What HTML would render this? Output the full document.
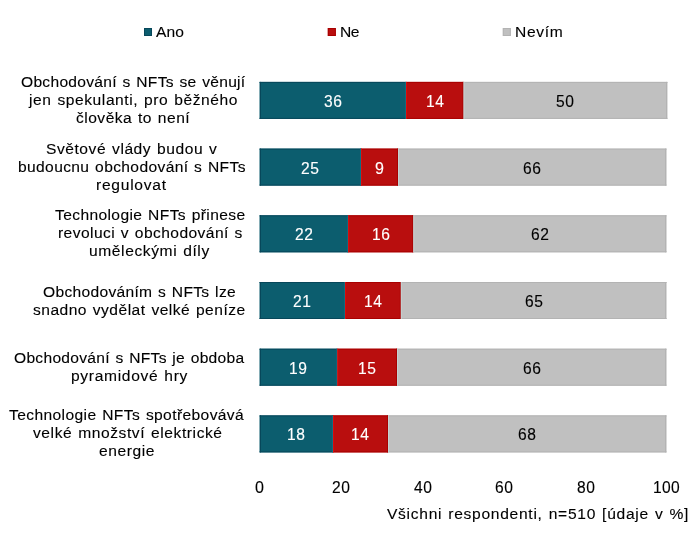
<!DOCTYPE html><html><head><meta charset="utf-8"><style>
html,body{margin:0;padding:0;background:#fff;}
body{width:700px;height:537px;position:relative;overflow:hidden;font-family:"Liberation Sans",sans-serif;color:#000;}
.a{position:absolute;}
.t{position:absolute;white-space:nowrap;font-size:15px;line-height:20px;transform-origin:0 0;will-change:transform;-webkit-text-stroke:0.12px currentColor;}
</style></head><body>

<svg class="a" style="left:0;top:0" width="700" height="537" viewBox="0 0 700 537"><rect x="144" y="28" width="8" height="8" fill="#0c5d6e"/><rect x="144.5" y="28.5" width="7" height="7" fill="none" stroke="#07475a" stroke-width="1"/><rect x="327.8" y="28" width="8" height="8" fill="#b90e0e"/><rect x="328.3" y="28.5" width="7" height="7" fill="none" stroke="#a80000" stroke-width="1"/><rect x="502.8" y="28" width="8" height="8" fill="#c0c0c0"/><rect x="503.3" y="28.5" width="7" height="7" fill="none" stroke="#b3b3b3" stroke-width="1"/><rect x="259.50" y="81.90" width="146.50" height="37" fill="#0c5d6e"/><rect x="259.50" y="81.90" width="146.50" height="1" fill="#07475a"/><rect x="259.50" y="117.90" width="146.50" height="1" fill="#07475a"/><rect x="406.00" y="81.90" width="57.50" height="37" fill="#b90e0e"/><rect x="406.00" y="81.90" width="57.50" height="1" fill="#a80000"/><rect x="406.00" y="117.90" width="57.50" height="1" fill="#a80000"/><rect x="463.50" y="81.90" width="204.00" height="37" fill="#c0c0c0"/><rect x="463.50" y="81.90" width="204.00" height="1" fill="#b3b3b3"/><rect x="463.50" y="117.90" width="204.00" height="1" fill="#b3b3b3"/><rect x="259.50" y="148.60" width="101.50" height="37" fill="#0c5d6e"/><rect x="259.50" y="148.60" width="101.50" height="1" fill="#07475a"/><rect x="259.50" y="184.60" width="101.50" height="1" fill="#07475a"/><rect x="361.00" y="148.60" width="37.00" height="37" fill="#b90e0e"/><rect x="361.00" y="148.60" width="37.00" height="1" fill="#a80000"/><rect x="361.00" y="184.60" width="37.00" height="1" fill="#a80000"/><rect x="398.00" y="148.60" width="268.60" height="37" fill="#c0c0c0"/><rect x="398.00" y="148.60" width="268.60" height="1" fill="#b3b3b3"/><rect x="398.00" y="184.60" width="268.60" height="1" fill="#b3b3b3"/><rect x="259.50" y="215.30" width="88.60" height="37" fill="#0c5d6e"/><rect x="259.50" y="215.30" width="88.60" height="1" fill="#07475a"/><rect x="259.50" y="251.30" width="88.60" height="1" fill="#07475a"/><rect x="348.10" y="215.30" width="65.20" height="37" fill="#b90e0e"/><rect x="348.10" y="215.30" width="65.20" height="1" fill="#a80000"/><rect x="348.10" y="251.30" width="65.20" height="1" fill="#a80000"/><rect x="413.30" y="215.30" width="253.30" height="37" fill="#c0c0c0"/><rect x="413.30" y="215.30" width="253.30" height="1" fill="#b3b3b3"/><rect x="413.30" y="251.30" width="253.30" height="1" fill="#b3b3b3"/><rect x="259.50" y="282.00" width="85.50" height="37" fill="#0c5d6e"/><rect x="259.50" y="282.00" width="85.50" height="1" fill="#07475a"/><rect x="259.50" y="318.00" width="85.50" height="1" fill="#07475a"/><rect x="345.00" y="282.00" width="55.80" height="37" fill="#b90e0e"/><rect x="345.00" y="282.00" width="55.80" height="1" fill="#a80000"/><rect x="345.00" y="318.00" width="55.80" height="1" fill="#a80000"/><rect x="400.80" y="282.00" width="265.80" height="37" fill="#c0c0c0"/><rect x="400.80" y="282.00" width="265.80" height="1" fill="#b3b3b3"/><rect x="400.80" y="318.00" width="265.80" height="1" fill="#b3b3b3"/><rect x="259.50" y="348.70" width="77.80" height="37" fill="#0c5d6e"/><rect x="259.50" y="348.70" width="77.80" height="1" fill="#07475a"/><rect x="259.50" y="384.70" width="77.80" height="1" fill="#07475a"/><rect x="337.30" y="348.70" width="59.70" height="37" fill="#b90e0e"/><rect x="337.30" y="348.70" width="59.70" height="1" fill="#a80000"/><rect x="337.30" y="384.70" width="59.70" height="1" fill="#a80000"/><rect x="397.00" y="348.70" width="269.60" height="37" fill="#c0c0c0"/><rect x="397.00" y="348.70" width="269.60" height="1" fill="#b3b3b3"/><rect x="397.00" y="384.70" width="269.60" height="1" fill="#b3b3b3"/><rect x="259.50" y="415.40" width="73.50" height="37" fill="#0c5d6e"/><rect x="259.50" y="415.40" width="73.50" height="1" fill="#07475a"/><rect x="259.50" y="451.40" width="73.50" height="1" fill="#07475a"/><rect x="333.00" y="415.40" width="55.00" height="37" fill="#b90e0e"/><rect x="333.00" y="415.40" width="55.00" height="1" fill="#a80000"/><rect x="333.00" y="451.40" width="55.00" height="1" fill="#a80000"/><rect x="388.00" y="415.40" width="278.60" height="37" fill="#c0c0c0"/><rect x="388.00" y="415.40" width="278.60" height="1" fill="#b3b3b3"/><rect x="388.00" y="451.40" width="278.60" height="1" fill="#b3b3b3"/><rect x="260.00" y="81.90" width="1" height="37" fill="#07475a"/><rect x="405.00" y="81.90" width="1" height="37" fill="#0e6c80"/><rect x="406.00" y="81.90" width="1" height="37" fill="#dc0a0a"/><rect x="462.50" y="81.90" width="1" height="37" fill="#a80000"/><rect x="463.50" y="81.90" width="1" height="37" fill="#c4d2d2"/><rect x="666.00" y="81.90" width="1" height="37" fill="#b3b3b3"/><rect x="260.00" y="148.60" width="1" height="37" fill="#07475a"/><rect x="360.00" y="148.60" width="1" height="37" fill="#0e6c80"/><rect x="361.00" y="148.60" width="1" height="37" fill="#dc0a0a"/><rect x="397.00" y="148.60" width="1" height="37" fill="#a80000"/><rect x="398.00" y="148.60" width="1" height="37" fill="#c4d2d2"/><rect x="665.00" y="148.60" width="1" height="37" fill="#b3b3b3"/><rect x="260.00" y="215.30" width="1" height="37" fill="#07475a"/><rect x="347.10" y="215.30" width="1" height="37" fill="#0e6c80"/><rect x="348.10" y="215.30" width="1" height="37" fill="#dc0a0a"/><rect x="412.30" y="215.30" width="1" height="37" fill="#a80000"/><rect x="413.30" y="215.30" width="1" height="37" fill="#c4d2d2"/><rect x="665.00" y="215.30" width="1" height="37" fill="#b3b3b3"/><rect x="260.00" y="282.00" width="1" height="37" fill="#07475a"/><rect x="344.00" y="282.00" width="1" height="37" fill="#0e6c80"/><rect x="345.00" y="282.00" width="1" height="37" fill="#dc0a0a"/><rect x="399.80" y="282.00" width="1" height="37" fill="#a80000"/><rect x="400.80" y="282.00" width="1" height="37" fill="#c4d2d2"/><rect x="665.00" y="282.00" width="1" height="37" fill="#b3b3b3"/><rect x="260.00" y="348.70" width="1" height="37" fill="#07475a"/><rect x="336.30" y="348.70" width="1" height="37" fill="#0e6c80"/><rect x="337.30" y="348.70" width="1" height="37" fill="#dc0a0a"/><rect x="396.00" y="348.70" width="1" height="37" fill="#a80000"/><rect x="397.00" y="348.70" width="1" height="37" fill="#c4d2d2"/><rect x="665.00" y="348.70" width="1" height="37" fill="#b3b3b3"/><rect x="260.00" y="415.40" width="1" height="37" fill="#07475a"/><rect x="332.00" y="415.40" width="1" height="37" fill="#0e6c80"/><rect x="333.00" y="415.40" width="1" height="37" fill="#dc0a0a"/><rect x="387.00" y="415.40" width="1" height="37" fill="#a80000"/><rect x="388.00" y="415.40" width="1" height="37" fill="#c4d2d2"/><rect x="665.00" y="415.40" width="1" height="37" fill="#b3b3b3"/></svg>
<div class="t" style="left:156.20px;top:21.50px;transform:scale(1.0400,1.02);letter-spacing:0.125px;word-spacing:0px">Ano</div>
<div class="t" style="left:339.76px;top:21.50px;transform:scale(1.0400,1.02);letter-spacing:-0.500px;word-spacing:0px">Ne</div>
<div class="t" style="left:514.56px;top:21.50px;transform:scale(1.0400,1.02);letter-spacing:0.663px;word-spacing:0px">Nevím</div>
<div class="t" style="left:20.86px;top:71.90px;transform:scale(1.0400,1.02);letter-spacing:0.271px;word-spacing:1.0px">Obchodování s NFTs se věnují</div>
<div class="t" style="left:28.80px;top:89.90px;transform:scale(1.0400,1.02);letter-spacing:0.538px;word-spacing:1.0px">jen spekulanti, pro běžného</div>
<div class="t" style="left:76.06px;top:107.90px;transform:scale(1.0400,1.02);letter-spacing:0.455px;word-spacing:1.0px">člověka to není</div>
<div class="t" style="left:323.69px;top:90.93px;transform:scale(1.0400,1.09);letter-spacing:0.433px;word-spacing:0px;color:#fff">36</div>
<div class="t" style="left:425.69px;top:90.93px;transform:scale(1.0400,1.09);letter-spacing:0.433px;word-spacing:0px;color:#fff">14</div>
<div class="t" style="left:556.44px;top:90.93px;transform:scale(1.0400,1.09);letter-spacing:0.433px;word-spacing:0px;color:#000">50</div>
<div class="t" style="left:45.96px;top:138.60px;transform:scale(1.0400,1.02);letter-spacing:0.518px;word-spacing:1.0px">Světové vlády budou v</div>
<div class="t" style="left:18.46px;top:156.60px;transform:scale(1.0400,1.02);letter-spacing:0.343px;word-spacing:1.0px">budoucnu obchodování s NFTs</div>
<div class="t" style="left:96.46px;top:174.60px;transform:scale(1.0400,1.02);letter-spacing:0.704px;word-spacing:0px">regulovat</div>
<div class="t" style="left:301.19px;top:157.63px;transform:scale(1.0400,1.09);letter-spacing:0.433px;word-spacing:0px;color:#fff">25</div>
<div class="t" style="left:374.69px;top:157.63px;transform:scale(1.0700,1.09);letter-spacing:0.000px;word-spacing:0px;color:#fff">9</div>
<div class="t" style="left:523.24px;top:157.63px;transform:scale(1.0400,1.09);letter-spacing:0.433px;word-spacing:0px;color:#000">66</div>
<div class="t" style="left:55.30px;top:205.30px;transform:scale(1.0400,1.02);letter-spacing:0.357px;word-spacing:1.0px">Technologie NFTs přinese</div>
<div class="t" style="left:58.06px;top:223.30px;transform:scale(1.0400,1.02);letter-spacing:0.398px;word-spacing:1.0px">revoluci v obchodování s</div>
<div class="t" style="left:89.36px;top:241.30px;transform:scale(1.0400,1.02);letter-spacing:0.565px;word-spacing:1.0px">uměleckými díly</div>
<div class="t" style="left:294.74px;top:224.33px;transform:scale(1.0400,1.09);letter-spacing:0.433px;word-spacing:0px;color:#fff">22</div>
<div class="t" style="left:371.64px;top:224.33px;transform:scale(1.0400,1.09);letter-spacing:0.433px;word-spacing:0px;color:#fff">16</div>
<div class="t" style="left:530.89px;top:224.33px;transform:scale(1.0400,1.09);letter-spacing:0.433px;word-spacing:0px;color:#000">62</div>
<div class="t" style="left:43.16px;top:281.50px;transform:scale(1.0400,1.02);letter-spacing:0.289px;word-spacing:1.0px">Obchodováním s NFTs lze</div>
<div class="t" style="left:32.96px;top:299.50px;transform:scale(1.0400,1.02);letter-spacing:0.450px;word-spacing:1.0px">snadno vydělat velké peníze</div>
<div class="t" style="left:293.19px;top:291.03px;transform:scale(1.0400,1.09);letter-spacing:0.433px;word-spacing:0px;color:#fff">21</div>
<div class="t" style="left:363.83px;top:291.03px;transform:scale(1.0400,1.09);letter-spacing:0.433px;word-spacing:0px;color:#fff">14</div>
<div class="t" style="left:524.64px;top:291.03px;transform:scale(1.0400,1.09);letter-spacing:0.433px;word-spacing:0px;color:#000">65</div>
<div class="t" style="left:14.16px;top:348.20px;transform:scale(1.0400,1.02);letter-spacing:0.266px;word-spacing:1.0px">Obchodování s NFTs je obdoba</div>
<div class="t" style="left:71.06px;top:366.20px;transform:scale(1.0400,1.02);letter-spacing:0.642px;word-spacing:1.0px">pyramidové hry</div>
<div class="t" style="left:289.33px;top:357.73px;transform:scale(1.0400,1.09);letter-spacing:0.433px;word-spacing:0px;color:#fff">19</div>
<div class="t" style="left:358.08px;top:357.73px;transform:scale(1.0400,1.09);letter-spacing:0.433px;word-spacing:0px;color:#fff">15</div>
<div class="t" style="left:522.74px;top:357.73px;transform:scale(1.0400,1.09);letter-spacing:0.433px;word-spacing:0px;color:#000">66</div>
<div class="t" style="left:8.90px;top:405.40px;transform:scale(1.0400,1.02);letter-spacing:0.366px;word-spacing:1.0px">Technologie NFTs spotřebovává</div>
<div class="t" style="left:33.10px;top:423.40px;transform:scale(1.0400,1.02);letter-spacing:0.544px;word-spacing:1.0px">velké množství elektrické</div>
<div class="t" style="left:98.66px;top:441.40px;transform:scale(1.0400,1.02);letter-spacing:0.551px;word-spacing:0px">energie</div>
<div class="t" style="left:287.19px;top:424.43px;transform:scale(1.0400,1.09);letter-spacing:0.433px;word-spacing:0px;color:#fff">18</div>
<div class="t" style="left:351.44px;top:424.43px;transform:scale(1.0400,1.09);letter-spacing:0.433px;word-spacing:0px;color:#fff">14</div>
<div class="t" style="left:518.24px;top:424.43px;transform:scale(1.0400,1.09);letter-spacing:0.433px;word-spacing:0px;color:#000">68</div>
<div class="t" style="left:255.13px;top:477.03px;transform:scale(1.0700,1.09);letter-spacing:0.000px;word-spacing:0px">0</div>
<div class="t" style="left:332.37px;top:477.03px;transform:scale(1.0400,1.09);letter-spacing:0.433px;word-spacing:0px">20</div>
<div class="t" style="left:414.35px;top:477.03px;transform:scale(1.0400,1.09);letter-spacing:0.462px;word-spacing:0px">40</div>
<div class="t" style="left:495.32px;top:477.03px;transform:scale(1.0400,1.09);letter-spacing:0.433px;word-spacing:0px">60</div>
<div class="t" style="left:576.81px;top:477.03px;transform:scale(1.0400,1.09);letter-spacing:0.433px;word-spacing:0px">80</div>
<div class="t" style="left:653.47px;top:477.03px;transform:scale(1.0400,1.09);letter-spacing:0.346px;word-spacing:0px">100</div>
<div class="t" style="left:387.40px;top:503.50px;transform:scale(1.0400,1.02);letter-spacing:0.677px;word-spacing:1.0px">Všichni respondenti, n=510 [údaje v %]</div>
</body></html>
